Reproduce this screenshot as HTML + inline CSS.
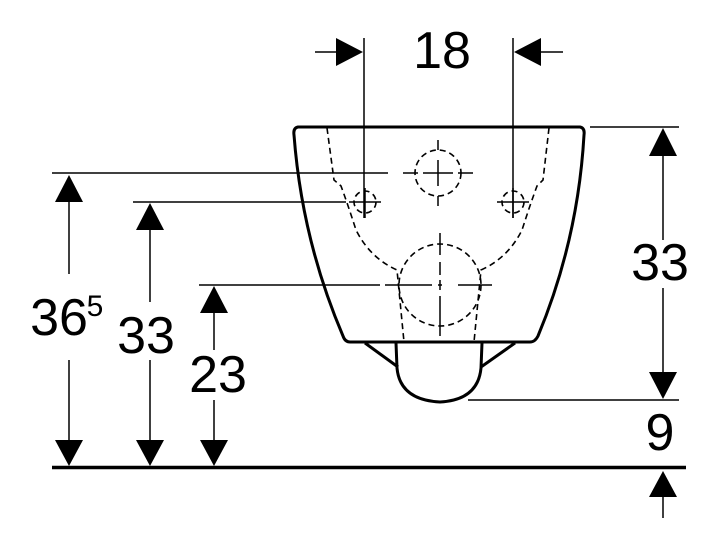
<!DOCTYPE html>
<html><head><meta charset="utf-8"><style>html,body{margin:0;padding:0;background:#fff}svg{display:block}</style></head>
<body>
<svg width="720" height="549" viewBox="0 0 720 549" xmlns="http://www.w3.org/2000/svg" font-family="Liberation Sans, Arial, sans-serif">
<g stroke="#000" fill="none" stroke-width="1.5">
<line x1="52" y1="173" x2="388" y2="173"/>
<line x1="133" y1="202" x2="346" y2="202"/>
<line x1="199" y1="285" x2="380" y2="285"/>
<line x1="590" y1="127" x2="679" y2="127"/>
<line x1="468" y1="400" x2="679" y2="400"/>
<line x1="364" y1="38" x2="364" y2="218"/>
<line x1="513" y1="38" x2="513" y2="218"/>
<line x1="315" y1="52" x2="340" y2="52"/>
<line x1="537" y1="52" x2="563" y2="52"/>
<line x1="69" y1="195" x2="69" y2="274"/><line x1="69" y1="360" x2="69" y2="445"/>
<line x1="150" y1="225" x2="150" y2="302"/><line x1="150" y1="360" x2="150" y2="445"/>
<line x1="214" y1="305" x2="214" y2="350"/><line x1="214" y1="400" x2="214" y2="445"/>
<line x1="663" y1="150" x2="663" y2="240"/><line x1="663" y1="288" x2="663" y2="378"/>
<line x1="663" y1="490" x2="663" y2="518"/>
</g>
<line x1="52" y1="467.5" x2="686" y2="467.5" stroke="#000" stroke-width="3.5"/>
<g fill="#000">
<polygon points="69,175 55,202 83,202"/><polygon points="69,466 55,440 83,440"/>
<polygon points="150,203 136,230 164,230"/><polygon points="150,466 136,440 164,440"/>
<polygon points="214,286 200,313 228,313"/><polygon points="214,466 200,440 228,440"/>
<polygon points="663,128 649,156 677,156"/><polygon points="663,399 649,372 677,372"/>
<polygon points="663,471 649,497 677,497"/>
<polygon points="363,52 336,38 336,66"/><polygon points="514,52 541,38 541,66"/>
</g>
<g font-size="52" fill="#000" text-anchor="middle">
<text x="442" y="68">18</text>
<text x="59" y="335">36</text>
<text x="95" y="316" font-size="30">5</text>
<text x="146" y="353">33</text>
<text x="218" y="392">23</text>
<text x="660" y="280">33</text>
<text x="660" y="450">9</text>
</g>
<g stroke="#000" fill="none" stroke-width="3" stroke-linejoin="round">
<path d="M298,127 L580,127 Q585,128 584,135 Q578,240 538,336 Q535,342 530,342 L350,342 Q345,342 343,336 Q302,240 294,135 Q293,128 298,127 Z"/>
<path d="M365,343 L398,367 M515,343 L481,367"/>
<path d="M396,343 L397,368 Q400,400 440,402 Q478,400 481,368 L482,343"/>
</g>
<g stroke="#000" fill="none" stroke-width="1.6" stroke-dasharray="6,4">
<path d="M327,128 L334,180 L341,186 Q348,205 356,230 Q370,258 397,270 L404,342"/>
<path d="M549,128 L543,180 L537,186 Q530,205 522,230 Q508,258 481,270 L474,342"/>
<circle cx="438" cy="173" r="23"/>
<circle cx="365" cy="202" r="11"/>
<circle cx="513" cy="202" r="11"/>
<circle cx="440" cy="285" r="41"/>
</g>
<g stroke="#000" fill="none" stroke-width="1.5">
<path d="M438,140 L438,150 M438,160 L438,186 M438,196 L438,206"/>
<path d="M403,173 L418,173 M423,173 L453,173 M458,173 L473,173"/>
<path d="M365,188 L365,218 M513,188 L513,218 M349,202 L381,202 M497,202 L529,202"/>
<path d="M440,233 L440,255 M440,262 L440,275 M440,280 L440,290 M440,296 L440,336"/>
<path d="M385,285 L432,285 M438,285 L442,285 M458,285 L492,285"/>
</g>
</svg>
</body></html>
